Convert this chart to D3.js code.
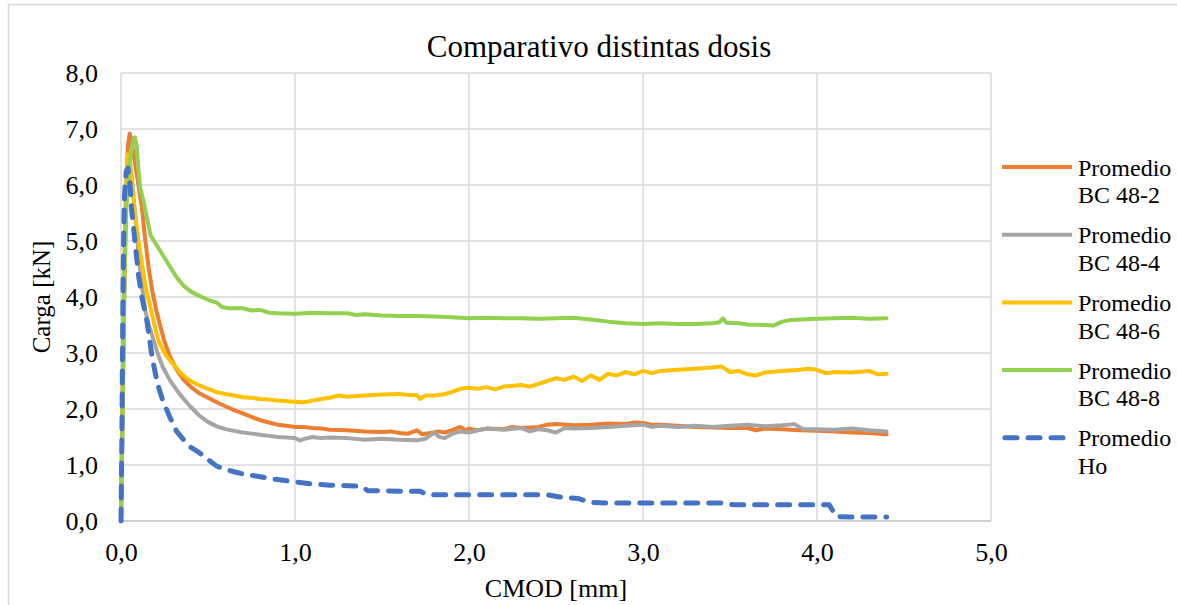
<!DOCTYPE html>
<html>
<head>
<meta charset="utf-8">
<script src="https://cdn.jsdelivr.net/npm/d3@7"></script>
<style>
	body { margin: 0; background: #fff; }
	text { font-family: "Liberation Serif", Tinos, "Times New Roman", Times, "DejaVu Serif", "Noto Serif", serif; fill: #000; }
</style>
</head>
<body>
<div id="chart"></div>
<script>
/**
 * Data (CMOD [mm], Carga [kN])
 */
var bc482 = [[0,0],[0.01,2.5],[0.02,4.6],[0.03,6.0],[0.04,6.7],[0.05,6.92],[0.06,6.8],[0.08,6.4],[0.10,6.0],[0.12,5.6],[0.14,5.0],[0.16,4.5],[0.18,4.1],[0.20,3.8],[0.22,3.55],[0.25,3.2],[0.28,2.95],[0.32,2.7],[0.36,2.52],[0.40,2.4],[0.45,2.28],[0.50,2.2],[0.55,2.12],[0.60,2.05],[0.65,1.98],[0.70,1.92],[0.75,1.86],[0.80,1.80],[0.85,1.76],[0.90,1.72],[0.95,1.70],[1.00,1.68],[1.05,1.68],[1.10,1.66],[1.15,1.65],[1.20,1.63],[1.30,1.62],[1.40,1.60],[1.50,1.59],[1.55,1.60],[1.60,1.57],[1.65,1.56],[1.70,1.62],[1.73,1.55],[1.78,1.57],[1.82,1.60],[1.86,1.58],[1.90,1.62],[1.95,1.68],[1.98,1.62],[2.0,1.65],[2.05,1.62],[2.1,1.65],[2.2,1.64],[2.25,1.68],[2.3,1.66],[2.4,1.68],[2.45,1.72],[2.5,1.73],[2.6,1.71],[2.7,1.72],[2.8,1.74],[2.9,1.73],[2.95,1.76],[3.0,1.75],[3.05,1.72],[3.1,1.72],[3.2,1.70],[3.3,1.68],[3.4,1.67],[3.5,1.66],[3.6,1.66],[3.65,1.62],[3.7,1.65],[3.8,1.64],[3.9,1.62],[4.0,1.61],[4.1,1.60],[4.2,1.58],[4.3,1.57],[4.4,1.55]];

var bc484 = [[0,0],[0.01,2.0],[0.02,4.2],[0.03,5.6],[0.04,6.3],[0.05,6.4],[0.06,6.2],[0.08,5.5],[0.10,4.8],[0.12,4.2],[0.14,3.75],[0.16,3.5],[0.18,3.3],[0.21,3.0],[0.24,2.75],[0.28,2.52],[0.32,2.34],[0.36,2.18],[0.40,2.04],[0.45,1.88],[0.50,1.77],[0.55,1.69],[0.60,1.64],[0.65,1.61],[0.70,1.58],[0.75,1.56],[0.80,1.54],[0.85,1.52],[0.90,1.50],[0.95,1.49],[1.0,1.48],[1.03,1.44],[1.06,1.47],[1.1,1.50],[1.15,1.48],[1.2,1.49],[1.3,1.48],[1.4,1.45],[1.5,1.47],[1.6,1.45],[1.7,1.44],[1.75,1.47],[1.8,1.58],[1.83,1.50],[1.86,1.48],[1.9,1.55],[1.95,1.60],[2.0,1.58],[2.05,1.62],[2.1,1.65],[2.2,1.63],[2.3,1.66],[2.35,1.60],[2.4,1.64],[2.45,1.62],[2.5,1.58],[2.55,1.66],[2.6,1.65],[2.7,1.66],[2.8,1.68],[2.9,1.70],[3.0,1.72],[3.05,1.68],[3.1,1.70],[3.2,1.68],[3.3,1.70],[3.4,1.68],[3.5,1.70],[3.6,1.72],[3.7,1.69],[3.8,1.71],[3.87,1.73],[3.92,1.64],[4.0,1.64],[4.1,1.63],[4.2,1.65],[4.3,1.62],[4.4,1.60]];

var bc486 = [[0,0],[0.01,2.3],[0.02,4.5],[0.03,6.0],[0.04,6.55],[0.05,6.5],[0.06,6.1],[0.08,5.5],[0.10,5.0],[0.12,4.6],[0.14,4.2],[0.17,3.8],[0.20,3.4],[0.22,3.18],[0.26,2.95],[0.30,2.8],[0.35,2.62],[0.40,2.5],[0.45,2.42],[0.50,2.36],[0.55,2.3],[0.60,2.27],[0.65,2.24],[0.70,2.21],[0.75,2.2],[0.80,2.18],[0.85,2.17],[0.90,2.15],[0.95,2.14],[1.0,2.13],[1.05,2.12],[1.1,2.15],[1.15,2.18],[1.2,2.2],[1.25,2.24],[1.3,2.22],[1.4,2.24],[1.5,2.26],[1.6,2.27],[1.65,2.25],[1.7,2.25],[1.72,2.18],[1.75,2.24],[1.8,2.24],[1.85,2.26],[1.9,2.3],[1.95,2.36],[2.0,2.38],[2.05,2.36],[2.1,2.39],[2.15,2.35],[2.2,2.4],[2.3,2.43],[2.35,2.4],[2.4,2.45],[2.45,2.5],[2.5,2.55],[2.55,2.52],[2.6,2.58],[2.65,2.5],[2.7,2.6],[2.75,2.52],[2.8,2.63],[2.85,2.6],[2.9,2.66],[2.95,2.62],[3.0,2.68],[3.05,2.64],[3.1,2.68],[3.2,2.7],[3.3,2.72],[3.4,2.74],[3.45,2.76],[3.5,2.66],[3.55,2.68],[3.6,2.62],[3.65,2.6],[3.7,2.65],[3.8,2.68],[3.9,2.7],[3.95,2.72],[4.0,2.7],[4.05,2.64],[4.1,2.66],[4.2,2.65],[4.3,2.68],[4.35,2.62],[4.4,2.63]];

var bc488 = [[0,0],[0.01,2.2],[0.02,4.5],[0.03,5.6],[0.05,6.4],[0.07,6.8],[0.08,6.85],[0.09,6.7],[0.10,6.3],[0.11,5.95],[0.13,5.7],[0.15,5.4],[0.17,5.1],[0.20,4.95],[0.24,4.75],[0.28,4.55],[0.32,4.35],[0.36,4.2],[0.40,4.1],[0.45,4.02],[0.50,3.95],[0.55,3.9],[0.58,3.82],[0.62,3.8],[0.7,3.8],[0.75,3.76],[0.8,3.77],[0.85,3.72],[0.9,3.71],[1.0,3.7],[1.1,3.72],[1.2,3.71],[1.3,3.71],[1.35,3.68],[1.4,3.69],[1.5,3.67],[1.6,3.66],[1.7,3.66],[1.8,3.65],[1.9,3.64],[2.0,3.62],[2.1,3.63],[2.2,3.62],[2.3,3.62],[2.4,3.61],[2.5,3.62],[2.6,3.63],[2.7,3.6],[2.8,3.56],[2.9,3.53],[3.0,3.52],[3.1,3.53],[3.2,3.52],[3.3,3.52],[3.4,3.53],[3.44,3.55],[3.46,3.62],[3.48,3.54],[3.55,3.53],[3.6,3.51],[3.7,3.5],[3.75,3.49],[3.8,3.56],[3.85,3.59],[3.9,3.6],[4.0,3.61],[4.1,3.62],[4.2,3.63],[4.3,3.61],[4.4,3.62]];

var ho = [[0,0],[0.005,1.5],[0.01,3.5],[0.015,5.0],[0.02,5.8],[0.03,6.25],[0.04,6.3],[0.05,6.1],[0.06,5.6],[0.08,5.0],[0.10,4.4],[0.12,4.0],[0.15,3.55],[0.18,2.9],[0.21,2.45],[0.24,2.15],[0.28,1.86],[0.32,1.6],[0.36,1.45],[0.40,1.32],[0.45,1.22],[0.50,1.1],[0.55,0.98],[0.60,0.92],[0.65,0.88],[0.70,0.84],[0.80,0.79],[0.90,0.74],[1.0,0.70],[1.1,0.66],[1.2,0.64],[1.3,0.63],[1.38,0.62],[1.42,0.54],[1.5,0.54],[1.6,0.53],[1.72,0.53],[1.76,0.47],[2.0,0.47],[2.2,0.47],[2.45,0.47],[2.52,0.43],[2.63,0.40],[2.7,0.33],[2.8,0.32],[3.0,0.32],[3.2,0.32],[3.45,0.32],[3.52,0.29],[3.7,0.29],[3.9,0.29],[4.07,0.29],[4.11,0.08],[4.2,0.07],[4.4,0.07]];

var seriesNames = ["Promedio BC 48-2", "Promedio BC 48-4", "Promedio BC 48-6", "Promedio BC 48-8", "Promedio Ho"];
var seriesColors = ["#ED7D31", "#A5A5A5", "#FFC000", "#92D050", "#4472C4"];
var seriesData = [bc482, bc484, bc486, bc488, ho];
var xTicks = [0, 1, 2, 3, 4, 5];
var yTicks = [0, 1, 2, 3, 4, 5, 6, 7, 8];

/**
 * Layout
 */
var W = 1177, H = 605;
var plot = { left: 121, right: 991, top: 73, bottom: 521 };
var FONT = '"Liberation Serif", Tinos, "Times New Roman", Times, "DejaVu Serif", "Noto Serif", serif';
var LINE_W = 4, DASH_W = 5, DASH = "12 11";

var svg = d3.select("#chart").append("svg")
	.attr("width", W)
	.attr("height", H)
	.style("font-family", FONT);

// Outer chart border
svg.append("rect")
	.attr("x", 8.5).attr("y", 4.5)
	.attr("width", W).attr("height", H)
	.attr("fill", "#fff")
	.attr("stroke", "#D9D9D9")
	.attr("stroke-width", 1.5);

var x = d3.scaleLinear().domain([0, 5]).range([plot.left, plot.right]);
var y = d3.scaleLinear().domain([0, 8]).range([plot.bottom, plot.top]);
var fmt = function(d) { return d3.format(".1f")(d).replace(".", ","); };

// Grid
var grid = svg.append("g");
grid.selectAll("line.h").data(yTicks).enter().append("line")
	.attr("x1", plot.left).attr("x2", plot.right)
	.attr("y1", function(d) { return y(d); }).attr("y2", function(d) { return y(d); })
	.attr("stroke", function(d) { return d == 0 ? "#BFBFBF" : "#D9D9D9"; })
	.attr("stroke-width", 1.5);
grid.selectAll("line.v").data(xTicks).enter().append("line")
	.attr("y1", plot.top).attr("y2", plot.bottom)
	.attr("x1", function(d) { return x(d); }).attr("x2", function(d) { return x(d); })
	.attr("stroke", "#D9D9D9")
	.attr("stroke-width", 1.5);

// Axes (labels only)
var xAxis = svg.append("g")
	.attr("transform", "translate(0," + plot.bottom + ")")
	.call(d3.axisBottom(x).tickValues(xTicks).tickFormat(fmt).tickSize(0).tickPadding(22));
var yAxis = svg.append("g")
	.attr("transform", "translate(" + plot.left + ",0)")
	.call(d3.axisLeft(y).tickValues(yTicks).tickFormat(fmt).tickSize(0).tickPadding(23));
[xAxis, yAxis].forEach(function(a) {
	a.attr("font-family", null);
	a.select(".domain").remove();
	a.selectAll("text")
		.style("font-family", FONT)
		.style("font-size", "26px")
		.attr("fill", "#000");
});

// Series
var line = d3.line()
	.x(function(d) { return x(d[0]); })
	.y(function(d) { return y(d[1]); });

seriesData.forEach(function(data, i) {
	var path = svg.append("path")
		.datum(data)
		.attr("d", line)
		.attr("fill", "none")
		.attr("stroke", seriesColors[i])
		.attr("stroke-width", i == 4 ? DASH_W : LINE_W)
		.attr("stroke-linejoin", "round")
		.attr("stroke-linecap", "round");
	if (i == 4) path.attr("stroke-dasharray", DASH);
});

// Title
svg.append("text")
	.attr("x", 599).attr("y", 57)
	.attr("text-anchor", "middle")
	.style("font-size", "31px")
	.text("Comparativo distintas dosis");

// Axis titles
svg.append("text")
	.attr("x", 556).attr("y", 597)
	.attr("text-anchor", "middle")
	.style("font-size", "26px")
	.text("CMOD [mm]");
svg.append("text")
	.attr("transform", "translate(50,297) rotate(-90)")
	.attr("text-anchor", "middle")
	.style("font-size", "25px")
	.text("Carga [kN]");

// Legend
var legend = svg.append("g").attr("transform", "translate(1002,167)");
seriesNames.forEach(function(name, i) {
	var g = legend.append("g").attr("transform", "translate(0," + (i * 67.7) + ")");
	var l = g.append("line")
		.attr("x1", 0).attr("x2", 70)
		.attr("stroke", seriesColors[i])
		.attr("stroke-width", i == 4 ? DASH_W : LINE_W)
		.attr("stroke-linecap", i == 4 ? "round" : "butt");
	if (i == 4) l.attr("stroke-dasharray", DASH).attr("x1", 3).attr("x2", 70);
	var words = name.split(" ");
	var t = g.append("text").attr("x", 76).attr("y", 8.5).style("font-size", "24px");
	t.append("tspan").attr("x", 76).text(words[0]);
	t.append("tspan").attr("x", 76).attr("dy", 27.7).text(words.slice(1).join(" "));
});
</script>
</body>
</html>
